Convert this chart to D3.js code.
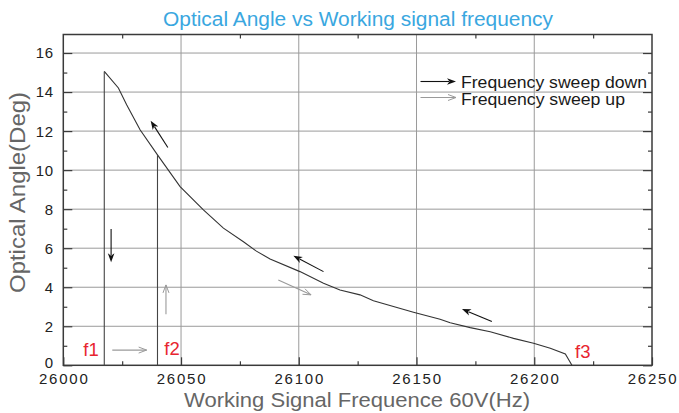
<!DOCTYPE html>
<html>
<head>
<meta charset="utf-8">
<script src="https://cdn.jsdelivr.net/npm/d3@7/dist/d3.min.js"></script>
<style>
  html, body { margin: 0; padding: 0; background: #fff; }
  svg { display: block; font-family: "Liberation Sans", Arial, sans-serif; }
</style>
</head>
<body>
<svg id="chart" width="679" height="413"></svg>
<script>
// ---- data ----
const title = "Optical Angle vs Working signal frequency";
const xTitle = "Working Signal Frequence 60V(Hz)";
const yTitle = "Optical Angle(Deg)";
const xTicks = [26000, 26050, 26100, 26150, 26200, 26250];
const yTicks = [0, 2, 4, 6, 8, 10, 12, 14, 16];
const freq  = [26017.4, 26023.4, 26026.9, 26032.6, 26040.0, 26049.6, 26059.5, 26068.0, 26076.5, 26082.0,
               26087.8, 26100.5, 26110.5, 26117.5, 26126.0, 26131.7, 26140.2, 26148.7, 26160.0, 26164.3,
               26172.8, 26181.3, 26191.2, 26199.7, 26206.8, 26213.2, 26216.0];
const angle = [15.06, 14.21, 13.35, 12.07, 10.78, 9.16, 7.96, 7.03, 6.33, 5.85,
               5.45, 4.80, 4.21, 3.86, 3.61, 3.31, 3.01, 2.72, 2.36, 2.18,
               1.93, 1.72, 1.38, 1.13, 0.87, 0.58, 0.00];
// marker lines f1, f2 (frequency, top angle)
const markerNames = ["f1", "f2", "f3"];
const markerFreq  = [26017.4, 26040.0, 26216.0];
const markerTop   = [15.06, 10.78, 0];
// direction arrows: [x1, y1, x2, y2] in data units, type "down" (sweep down, black) / "up" (sweep up, grey)
const arrowX1 = [26020.3, 26043.6, 26020.8, 26044.4, 26110.5, 26091.3, 26182.0];
const arrowY1 = [6.99, 2.62, 0.78, 11.16, 4.80, 4.37, 2.24];
const arrowX2 = [26020.3, 26043.6, 26035.4, 26037.1, 26097.7, 26105.2, 26169.3];
const arrowY2 = [5.28, 4.12, 0.78, 12.53, 5.61, 3.61, 2.89];
const arrowType = ["down", "up", "up", "down", "down", "up", "down"];
const legendLabels = ["Frequency sweep down", "Frequency sweep up"];
const legendTypes = ["down", "up"];

// ---- layout ----
const L = 63.3, R = 652, T = 34.5, B = 365.3;
const svg = d3.select("#chart");
const x = d3.scaleLinear().domain([26000, 26250]).range([L, R]);
const y = d3.scaleLinear().domain([0, 16.95]).range([B, T]);

const gridColor = "#9a9a9a";
const frameColor = "#3a3a3a";
const downColor = "#111";
const upColor = "#9a9a9a";

// grid
svg.append("g").selectAll("line").data(xTicks.slice(1, -1)).join("line")
  .attr("x1", d => x(d)).attr("x2", d => x(d)).attr("y1", T).attr("y2", B)
  .attr("stroke", gridColor).attr("stroke-width", 1);
svg.append("g").selectAll("line").data(yTicks.slice(1)).join("line")
  .attr("x1", L).attr("x2", R).attr("y1", d => y(d)).attr("y2", d => y(d))
  .attr("stroke", gridColor).attr("stroke-width", 1);

// axes with inward ticks
const yMinor = d3.range(1, 17, 2);
const xMinor = [26025, 26075, 26125, 26175, 26225];
const axL = svg.append("g").attr("transform", `translate(${L},0)`)
  .call(d3.axisRight(y).tickValues(yTicks).tickSize(9).tickFormat(""));
const axLm = svg.append("g").attr("transform", `translate(${L},0)`)
  .call(d3.axisRight(y).tickValues(yMinor).tickSize(4).tickFormat(""));
const axR = svg.append("g").attr("transform", `translate(${R},0)`)
  .call(d3.axisLeft(y).tickValues(yTicks).tickSize(9).tickFormat(""));
const axRm = svg.append("g").attr("transform", `translate(${R},0)`)
  .call(d3.axisLeft(y).tickValues(yMinor).tickSize(4).tickFormat(""));
const axB = svg.append("g").attr("transform", `translate(0,${B})`)
  .call(d3.axisTop(x).tickValues(xTicks).tickSize(8).tickFormat(""));
const axBm = svg.append("g").attr("transform", `translate(0,${B})`)
  .call(d3.axisTop(x).tickValues(xMinor).tickSize(4).tickFormat(""));
const axT = svg.append("g").attr("transform", `translate(0,${T})`)
  .call(d3.axisBottom(x).tickValues(xMinor).tickSize(4).tickFormat(""));
[axL, axLm, axR, axRm, axB, axBm, axT].forEach(g => {
  g.select(".domain").remove();
  g.selectAll(".tick line").attr("stroke", frameColor).attr("stroke-width", 1.2);
});

// frame
svg.append("rect").attr("x", L).attr("y", T).attr("width", R - L).attr("height", B - T)
  .attr("fill", "none").attr("stroke", frameColor).attr("stroke-width", 1.5);

// tick labels
svg.append("g").selectAll("text").data(yTicks).join("text")
  .attr("x", 54).attr("y", d => y(d) - (d === 0 ? 3 : 0)).attr("dy", "0.36em")
  .attr("text-anchor", "end").attr("font-size", 15).attr("fill", "#222")
  .attr("letter-spacing", 0.8)
  .text(d => d);
svg.append("g").selectAll("text").data(xTicks).join("text")
  .attr("x", d => x(d) + 1).attr("y", 384)
  .attr("text-anchor", "middle").attr("font-size", 15).attr("fill", "#222")
  .attr("letter-spacing", 1.8)
  .text(d => d);

// titles
svg.append("text").attr("x", 358).attr("y", 25.5).attr("text-anchor", "middle")
  .attr("font-size", 19.5).attr("fill", "#3aa7e0")
  .attr("textLength", 390).attr("lengthAdjust", "spacingAndGlyphs").text(title);
svg.append("text").attr("x", 357).attr("y", 406.5).attr("text-anchor", "middle")
  .attr("font-size", 20.5).attr("fill", "#666")
  .attr("textLength", 346).attr("lengthAdjust", "spacingAndGlyphs").text(xTitle);
svg.append("text").attr("transform", "translate(24.5,192.5) rotate(-90)").attr("text-anchor", "middle")
  .attr("font-size", 22).attr("fill", "#666")
  .attr("textLength", 201).attr("lengthAdjust", "spacingAndGlyphs").text(yTitle);

// curve
const pts = freq.map((f, i) => [f, angle[i]]);
svg.append("path").datum(pts)
  .attr("d", d3.line().x(d => x(d[0])).y(d => y(d[1])))
  .attr("fill", "none").attr("stroke", "#333").attr("stroke-width", 1.1);

// marker vertical lines (f1, f2)
svg.append("g").selectAll("line").data([0, 1]).join("line")
  .attr("x1", i => x(markerFreq[i])).attr("x2", i => x(markerFreq[i]))
  .attr("y1", i => y(markerTop[i])).attr("y2", y(0))
  .attr("stroke", "#444").attr("stroke-width", 1.1);

// marker labels
const labelPos = [[83.3, 355.7], [164.3, 354.5], [575, 357.5]];
svg.append("g").selectAll("text").data([0, 1, 2]).join("text")
  .attr("x", i => labelPos[i][0]).attr("y", i => labelPos[i][1])
  .attr("font-size", 18.5).attr("fill", "#e8252f")
  .text(i => markerNames[i]);

// arrows
function drawArrow(g, x1, y1, x2, y2, type) {
  const dx = x2 - x1, dy = y2 - y1, len = Math.hypot(dx, dy);
  const ux = dx / len, uy = dy / len, nx = -uy, ny = ux;
  if (type === "down") {
    const hl = 9, hw = 3.3;
    const bx = x2 - ux * hl, by = y2 - uy * hl;
    g.append("line").attr("x1", x1).attr("y1", y1).attr("x2", bx + ux * 2).attr("y2", by + uy * 2)
      .attr("stroke", downColor).attr("stroke-width", 1.1);
    g.append("path")
      .attr("d", `M${x2},${y2}L${bx + nx * hw},${by + ny * hw}L${bx + ux * 2.5},${by + uy * 2.5}L${bx - nx * hw},${by - ny * hw}Z`)
      .attr("fill", downColor);
  } else {
    const hl = 8, hw = 3;
    const bx = x2 - ux * hl, by = y2 - uy * hl;
    g.append("line").attr("x1", x1).attr("y1", y1).attr("x2", x2).attr("y2", y2)
      .attr("stroke", upColor).attr("stroke-width", 1.1);
    g.append("path")
      .attr("d", `M${bx + nx * hw},${by + ny * hw}L${x2},${y2}L${bx - nx * hw},${by - ny * hw}`)
      .attr("fill", "none").attr("stroke", upColor).attr("stroke-width", 1);
  }
}
const ag = svg.append("g");
arrowX1.forEach((v, i) => drawArrow(ag, x(arrowX1[i]), y(arrowY1[i]), x(arrowX2[i]), y(arrowY2[i]), arrowType[i]));

// legend
const lg = svg.append("g");
legendLabels.forEach((lab, i) => {
  const yy = 81.5 + i * 16;
  drawArrow(lg, 420.5, yy, 456, yy, legendTypes[i]);
  lg.append("text").attr("x", 461).attr("y", 87.5 + i * 17.6)
    .attr("font-size", 15.6).attr("fill", "#1a1a1a")
    .attr("textLength", i === 0 ? 186 : 164).attr("lengthAdjust", "spacingAndGlyphs").text(lab);
});
</script>
</body>
</html>
